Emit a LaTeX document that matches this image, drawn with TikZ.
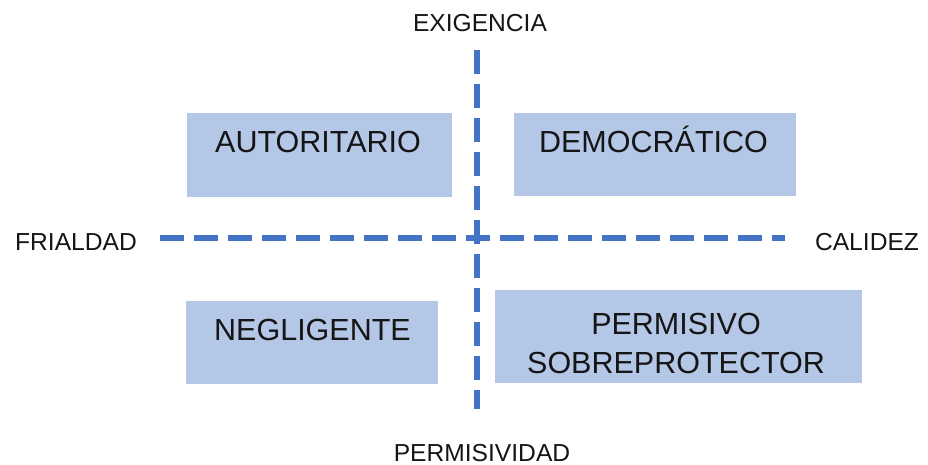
\documentclass[tikz,border=0pt]{standalone}
\usepackage{fontspec}
\setmainfont{Liberation Sans}
\definecolor{boxfill}{HTML}{B4C7E7}
\definecolor{axisblue}{HTML}{4472C4}
\definecolor{txt}{HTML}{151515}
\begin{document}
\begin{tikzpicture}[x=1pt,y=-1pt,
  quad/.style={rectangle,fill=boxfill,draw=none,inner sep=0pt},
  quadtext/.style={anchor=base,inner sep=0pt,text=txt,font=\fontsize{30.5}{38.5}\selectfont,align=center},
  axislabel/.style={anchor=base,inner sep=0pt,text=txt,font=\fontsize{24.6}{30}\selectfont},
  axisline/.style={draw=axisblue,line width=6pt,dash pattern=on 24pt off 10pt}]
\useasboundingbox (0,0) rectangle (928,465);
% boxes
\node[quad,minimum width=265pt,minimum height=84pt] (bA) at (319.5,155) {};
\node[quad,minimum width=282pt,minimum height=83pt] (bD) at (655,154.5) {};
\node[quad,minimum width=252pt,minimum height=83pt] (bN) at (312,342.5) {};
\node[quad,minimum width=367pt,minimum height=93pt] (bP) at (678.5,336.5) {};
% box texts
\node[quadtext] (tA) at (318,153) {AUTORITARIO};
\node[quadtext] (tD) at (653.5,153) {DEMOCRÁTICO};
\node[quadtext] (tN) at (312.5,340) {NEGLIGENTE};
\node[quadtext] (tP) at (676,373) {PERMISIVO\\SOBREPROTECTOR};
% axes
\coordinate (hL) at (160,238);
\coordinate (hR) at (785,238);
\coordinate (vT) at (477,50);
\coordinate (vB) at (477,409);
\draw[axisline] (hL) -- (hR);
\draw[axisline] (vT) -- (vB);
% axis labels
\node[axislabel] (lE) at (480,32) {EXIGENCIA};
\node[axislabel] (lP) at (482,461) {PERMISIVIDAD};
\node[axislabel] (lF) at (76,250) {FRIALDAD};
\node[axislabel] (lC) at (867,250) {CALIDEZ};
\end{tikzpicture}
\end{document}
